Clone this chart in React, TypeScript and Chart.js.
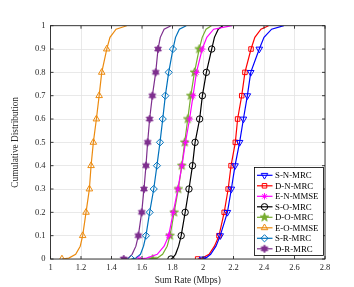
import React, { useEffect, useRef } from 'react';
import { Chart, registerables } from 'chart.js';
import { drawPoint } from 'chart.js/helpers';

Chart.register(...registerables);

// CDF levels where markers are placed
const cdfLevels = [0, 0.1, 0.2, 0.3, 0.4, 0.5, 0.6, 0.7, 0.8, 0.9];
const lowTailY = [0.004, 0.02, 0.055];
const highTailY = [0.95, 0.985, 1.0];

const xTicks = [1, 1.2, 1.4, 1.6, 1.8, 2, 2.2, 2.4, 2.6, 2.8];
const yTicks = [0, 0.1, 0.2, 0.3, 0.4, 0.5, 0.6, 0.7, 0.8, 0.9, 1];

const labels = ['S-N-MRC', 'D-N-MRC', 'E-N-MMSE', 'S-O-MRC', 'D-O-MRC', 'E-O-MMSE', 'S-R-MRC', 'D-R-MRC'];

// Sum rate (Mbps) at each CDF level
const snMarks = [1.998, 2.113, 2.16, 2.186, 2.21, 2.24, 2.265, 2.291, 2.313, 2.369];
const dnMarks = [1.965, 2.105, 2.139, 2.165, 2.184, 2.212, 2.227, 2.254, 2.275, 2.315];
const enMarks = [1.58, 1.775, 1.805, 1.835, 1.862, 1.885, 1.912, 1.935, 1.957, 1.995];
const soMarks = [1.79, 1.857, 1.883, 1.908, 1.931, 1.948, 1.978, 1.996, 2.022, 2.057];
const doMarks = [1.67, 1.784, 1.811, 1.838, 1.861, 1.88, 1.9, 1.92, 1.944, 1.975];
const eoMarks = [1.075, 1.211, 1.233, 1.255, 1.266, 1.281, 1.301, 1.319, 1.336, 1.369];
const srMarks = [1.53, 1.626, 1.65, 1.677, 1.698, 1.718, 1.736, 1.753, 1.775, 1.803];
const drMarks = [1.48, 1.576, 1.598, 1.613, 1.626, 1.637, 1.65, 1.668, 1.69, 1.705];

// Sum rate at lower tail levels (lowTailY)
const snLow = [2.02, 2.05, 2.085];
const dnLow = [1.995, 2.04, 2.075];
const enLow = [1.63, 1.7, 1.745];
const soLow = [1.8, 1.82, 1.84];
const doLow = [1.7, 1.735, 1.765];
const eoLow = [1.12, 1.165, 1.195];
const srLow = [1.56, 1.59, 1.61];
const drLow = [1.51, 1.535, 1.56];

// Sum rate at upper tail levels (highTailY)
const snHigh = [2.4, 2.45, 2.53];
const dnHigh = [2.34, 2.38, 2.43];
const enHigh = [2.025, 2.07, 2.19];
const soHigh = [2.075, 2.1, 2.13];
const doHigh = [1.995, 2.02, 2.055];
const eoHigh = [1.39, 1.43, 1.5];
const srHigh = [1.82, 1.845, 1.89];
const drHigh = [1.72, 1.745, 1.79];

const colors = ['#0000FF', '#FF0000', '#FF00FF', '#000000', '#77AC30', '#EC8B10', '#0072BD', '#7E2F8E'];

function makeStarCanvas(points: number, outer: number, inner: number, color: string, size: number) {
  const c = document.createElement('canvas');
  c.width = size;
  c.height = size;
  const g = c.getContext('2d')!;
  const cx = size / 2, cy = size / 2;
  g.beginPath();
  for (let i = 0; i < points * 2; i++) {
    const r = i % 2 === 0 ? outer : inner;
    const a = -Math.PI / 2 + (i * Math.PI) / points;
    const x = cx + r * Math.cos(a), y = cy + r * Math.sin(a);
    if (i === 0) g.moveTo(x, y); else g.lineTo(x, y);
  }
  g.closePath();
  g.fillStyle = color;
  g.fill();
  g.strokeStyle = color;
  g.lineWidth = 0.8;
  g.stroke();
  return c;
}

function buildSeries(marks: number[], low: number[], high: number[]) {
  const pts: { x: number; y: number; m: boolean }[] = [];
  pts.push({ x: marks[0], y: cdfLevels[0], m: true });
  low.forEach((x, i) => pts.push({ x, y: lowTailY[i], m: false }));
  for (let i = 1; i < marks.length; i++) pts.push({ x: marks[i], y: cdfLevels[i], m: true });
  high.forEach((x, i) => pts.push({ x, y: highTailY[i], m: false }));
  return pts;
}

export default function App() {
  const ref = useRef<HTMLCanvasElement>(null);
  useEffect(() => {
    if (!ref.current) return;
    const pentagram = makeStarCanvas(5, 4.6, 1.9, '#77AC30', 11);
    const hexagram = makeStarCanvas(6, 3.9, 2.2, '#7E2F8E', 10);
    const styles: any[] = [
      { style: 'triangle', rot: 180, r: 3.8, fill: 'rgba(0,0,0,0)' },
      { style: 'rect', rot: 0, r: 3.2, fill: 'rgba(0,0,0,0)' },
      { style: 'star', rot: 0, r: 3.2, fill: 'rgba(0,0,0,0)' },
      { style: 'circle', rot: 0, r: 3.2, fill: 'rgba(0,0,0,0)' },
      { style: pentagram, rot: 0, r: 4, fill: '#77AC30' },
      { style: 'triangle', rot: 0, r: 3.8, fill: 'rgba(0,0,0,0)' },
      { style: 'rectRot', rot: 0, r: 3.6, fill: 'rgba(0,0,0,0)' },
      { style: hexagram, rot: 0, r: 3.6, fill: '#7E2F8E' },
    ];
    const series = [
      buildSeries(snMarks, snLow, snHigh),
      buildSeries(dnMarks, dnLow, dnHigh),
      buildSeries(enMarks, enLow, enHigh),
      buildSeries(soMarks, soLow, soHigh),
      buildSeries(doMarks, doLow, doHigh),
      buildSeries(eoMarks, eoLow, eoHigh),
      buildSeries(srMarks, srLow, srHigh),
      buildSeries(drMarks, drLow, drHigh),
    ];
    const datasets = series.map((data, i) => ({
      label: labels[i],
      data,
      showLine: true,
      borderColor: colors[i],
      borderWidth: 1.2,
      pointStyle: styles[i].style,
      rotation: styles[i].rot,
      pointBorderColor: colors[i],
      pointBackgroundColor: styles[i].fill,
      pointBorderWidth: 1,
      pointRadius: (ctx: any) => (ctx.raw && ctx.raw.m ? styles[i].r : 0),
      pointHoverRadius: 0,
      tension: 0,
    }));

    const tickFont = { family: 'Liberation Serif', size: 8.5 };
    const titleFont = { family: 'Liberation Serif', size: 9.3 };

    const framePlugin = {
      id: 'frameAndLegend',
      afterDraw(chart: any) {
        const { ctx, chartArea: a } = chart;
        const xs = chart.scales.x, ys = chart.scales.y;
        ctx.save();
        ctx.strokeStyle = '#262626';
        ctx.lineWidth = 0.9;
        ctx.beginPath();
        xTicks.forEach((v) => {
          const px = xs.getPixelForValue(v);
          ctx.moveTo(px, a.bottom); ctx.lineTo(px, a.bottom - 3);
          ctx.moveTo(px, a.top); ctx.lineTo(px, a.top + 3);
        });
        yTicks.forEach((v) => {
          const py = ys.getPixelForValue(v);
          ctx.moveTo(a.left, py); ctx.lineTo(a.left + 3, py);
          ctx.moveTo(a.right, py); ctx.lineTo(a.right - 3, py);
        });
        ctx.stroke();
        ctx.strokeRect(a.left, a.top, a.right - a.left, a.bottom - a.top);

        // legend box
        const lx = 254.5, ly = 167.5, lw = 69, lh = 88;
        ctx.fillStyle = '#FFFFFF';
        ctx.fillRect(lx, ly, lw, lh);
        ctx.strokeStyle = '#000000';
        ctx.lineWidth = 0.8;
        ctx.strokeRect(lx, ly, lw, lh);
        ctx.font = '8.8px "Liberation Serif"';
        ctx.textBaseline = 'middle';
        ctx.textAlign = 'left';
        chart.data.datasets.forEach((ds: any, i: number) => {
          const y = ly + 7.8 + i * 10.5;
          ctx.strokeStyle = ds.borderColor;
          ctx.lineWidth = 1.2;
          ctx.beginPath();
          ctx.moveTo(lx + 2.5, y);
          ctx.lineTo(lx + 18, y);
          ctx.stroke();
          ctx.strokeStyle = ds.pointBorderColor;
          ctx.fillStyle = ds.pointBackgroundColor;
          ctx.lineWidth = 1;
          drawPoint(ctx, { pointStyle: ds.pointStyle, rotation: ds.rotation, radius: styles[i].r, borderWidth: 1 }, lx + 10, y);
          ctx.fillStyle = '#000000';
          ctx.fillText(ds.label, lx + 20.5, y + 0.5);
        });
        ctx.restore();
      },
    };

    const chart = new Chart(ref.current, {
      type: 'scatter',
      data: { datasets: datasets as any },
      options: {
        animation: false,
        responsive: false,
        maintainAspectRatio: false,
        layout: { padding: { top: 25.7, right: 29, left: 0, bottom: 0 } },
        plugins: { legend: { display: false }, tooltip: { enabled: false } },
        scales: {
          x: {
            type: 'linear',
            min: 1,
            max: 2.8,
            afterBuildTicks: (s: any) => { s.ticks = xTicks.map((v) => ({ value: v })); },
            afterFit: (s: any) => { s.height = 28; },
            ticks: { font: tickFont, color: '#262626', padding: 4, maxRotation: 0, autoSkip: false, callback: (v: any) => String(Math.round(v * 10) / 10) },
            grid: { color: '#E3E3E3', lineWidth: 0.8, drawTicks: false },
            border: { display: false },
            title: { display: true, text: 'Sum Rate (Mbps)', font: titleFont, color: '#262626', padding: { top: 0, bottom: 1 } },
          },
          y: {
            type: 'linear',
            min: 0,
            max: 1,
            afterBuildTicks: (s: any) => { s.ticks = yTicks.map((v) => ({ value: v })); },
            afterFit: (s: any) => { s.width = 50.5; },
            ticks: { font: tickFont, color: '#262626', padding: 5, autoSkip: false, callback: (v: any) => String(Math.round(v * 10) / 10) },
            grid: { color: '#E3E3E3', lineWidth: 0.8, drawTicks: false },
            border: { display: false },
            title: { display: true, text: 'Cumulative Distribution', font: titleFont, color: '#262626', padding: { top: 10, bottom: 0 } },
          },
        },
      },
      plugins: [framePlugin],
    });
    return () => chart.destroy();
  }, []);

  return (
    <div style={{ position: 'fixed', left: 0, top: 0, width: 354, height: 287, background: '#fff' }}>
      <canvas ref={ref} width={354} height={287} style={{ width: 354, height: 287, display: 'block' }} />
    </div>
  );
}
